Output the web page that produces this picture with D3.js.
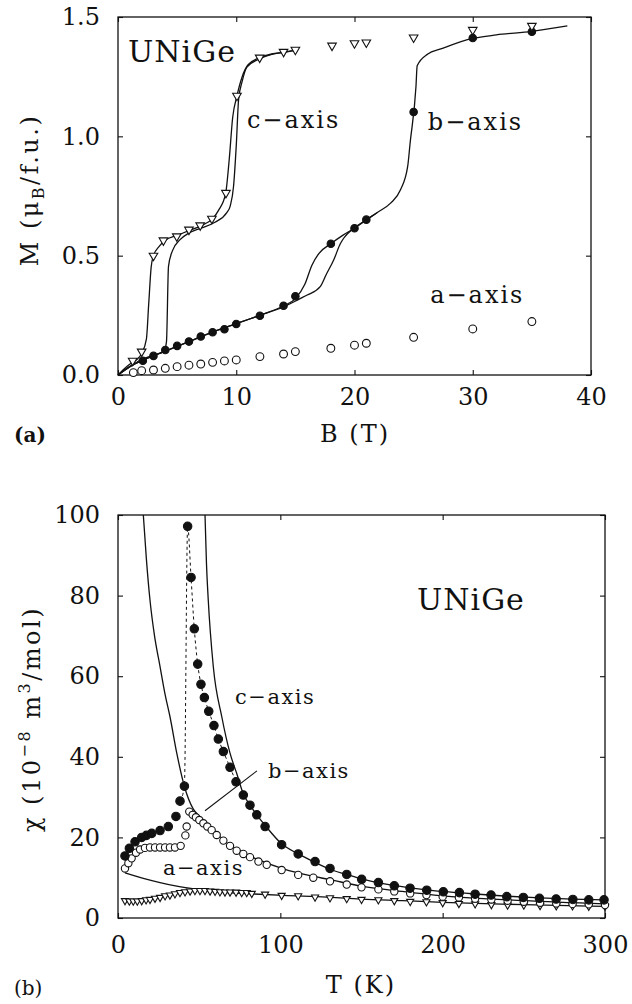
<!DOCTYPE html>
<html>
<head>
<meta charset="utf-8">
<script src="https://cdn.jsdelivr.net/npm/d3@7"></script>
<style>
  html, body { margin: 0; padding: 0; background: #fff; }
  svg { display: block; }
  text { font-family: "DejaVu Serif", serif; fill: #111; }
</style>
</head>
<body>
<svg id="fig" width="632" height="1004"></svg>
<script>
// ---- panel (a): magnetisation M (muB/f.u.) vs field B (T) ----
const cB = [1.24, 2.0, 3.0, 3.84, 4.97, 6.0, 6.95, 7.94, 9.13, 10.06, 11.98, 14.0, 15.0, 18.1, 20.0, 21.0, 25.0, 30.0, 35.0];
const cM = [0.06, 0.098, 0.5, 0.564, 0.581, 0.609, 0.627, 0.655, 0.763, 1.17, 1.33, 1.354, 1.363, 1.38, 1.39, 1.393, 1.414, 1.446, 1.463];
const bB = [2.1, 3.0, 4.0, 5.0, 6.0, 7.0, 8.0, 9.0, 10.0, 12.0, 14.0, 15.0, 18.0, 20.0, 21.0, 25.0, 30.0, 35.0];
const bM = [0.06, 0.08, 0.105, 0.122, 0.14, 0.161, 0.179, 0.192, 0.214, 0.248, 0.29, 0.33, 0.55, 0.615, 0.651, 1.102, 1.412, 1.438];
const aB = [1.3, 2, 3, 4, 5, 6, 7, 8, 9, 10, 12, 14, 15, 18, 20, 21, 25, 30, 35];
const aM = [0.01, 0.018, 0.021, 0.028, 0.035, 0.041, 0.046, 0.053, 0.059, 0.063, 0.077, 0.088, 0.098, 0.112, 0.125, 0.133, 0.158, 0.193, 0.224];

// solid curves (two field sweeps per axis)
const cDownB = [0, 0.4, 0.8, 1.2, 1.6, 2.0, 2.4, 2.6, 2.8, 3.0, 3.5, 4, 5, 6, 7, 8, 8.5, 9.1, 9.4, 9.7, 10.06, 10.5, 11, 12, 13, 14, 15];
const cDownM = [0, 0.02, 0.038, 0.052, 0.065, 0.09, 0.15, 0.3, 0.45, 0.5, 0.54, 0.565, 0.585, 0.605, 0.625, 0.655, 0.69, 0.76, 0.9, 1.08, 1.17, 1.25, 1.3, 1.33, 1.345, 1.352, 1.36];
const cUpB = [0, 1, 2, 3, 3.9, 4.1, 4.27, 4.6, 5.25, 6, 7, 8.2, 9.2, 9.5, 9.77, 10.0, 10.2, 10.5, 10.9, 12, 13, 14, 15];
const cUpM = [0, 0.035, 0.065, 0.083, 0.1, 0.14, 0.455, 0.52, 0.567, 0.595, 0.615, 0.64, 0.68, 0.71, 0.79, 0.96, 1.155, 1.23, 1.29, 1.325, 1.343, 1.352, 1.36];
const bDownB = [0, 1, 2, 3, 4, 6, 8, 10, 12, 14, 15, 15.8, 16.4, 17, 18, 19, 20, 21, 21.9, 23.05, 23.9, 24.5, 24.7, 25.2, 25.3, 26.2, 27.3, 30, 32, 35, 38];
const bDownM = [0, 0.035, 0.06, 0.08, 0.1, 0.14, 0.18, 0.215, 0.25, 0.29, 0.32, 0.38, 0.46, 0.51, 0.55, 0.585, 0.615, 0.65, 0.68, 0.72, 0.777, 0.875, 0.97, 1.21, 1.296, 1.345, 1.366, 1.41, 1.425, 1.44, 1.463];
const bUpB = [0, 1, 2, 3, 4, 6, 8, 10, 12, 14, 15.4, 16, 17.1, 17.6, 18.25, 18.8, 19.1, 19.94, 21, 21.9];
const bUpM = [0, 0.035, 0.06, 0.08, 0.1, 0.14, 0.18, 0.215, 0.25, 0.285, 0.32, 0.335, 0.37, 0.42, 0.483, 0.55, 0.574, 0.615, 0.65, 0.68];

// ---- panel (b): susceptibility chi (1e-8 m3/mol) vs temperature T (K) ----
const cT = [4.3, 7, 10.5, 14.6, 17.5, 20.8, 25.9, 31, 35.7, 38.2, 40.9, 42.9, 45, 47, 49.1, 51.1, 53.2, 55.9, 59.1, 61.8, 64.9, 69, 72.7, 77.2, 81.3, 85.5, 90.6, 100.8, 111, 121.4, 130.6, 140.9, 150.1, 160.4, 170.2, 179.9, 190.2, 200.4, 210.3, 220, 229.8, 239.5, 249.7, 259.6, 269.9, 280.2, 290, 299.4];
const cChi = [15.4, 17.3, 18.9, 20, 20.5, 21, 21.7, 22.7, 25.2, 29, 32.7, 97.2, 84.5, 71.75, 63, 58, 54.7, 51.3, 47.75, 44.4, 41.3, 37.4, 33.8, 30.5, 28, 25.6, 22.7, 18.2, 15.9, 14, 12.3, 10.8, 9.6, 8.8, 8.0, 7.4, 6.9, 6.5, 6.3, 5.9, 5.7, 5.3, 5.1, 4.9, 4.7, 4.6, 4.5, 4.5];
const bT = [4.3, 6.4, 8.4, 11.1, 13.6, 16.6, 19.7, 22.8, 25.9, 29, 32, 35.1, 38.6, 41.5, 42.3, 43.9, 46, 48, 50.1, 52.6, 55, 57.7, 60.8, 64.9, 69, 73.1, 77.2, 81.3, 86.5, 91.6, 100.8, 111, 120.3, 130.6, 140.9, 150, 160.4, 170.2, 180, 190, 200, 210, 220, 230, 240, 250, 260, 270, 280, 290, 300];
const bChi = [12.3, 13.6, 14.8, 16.2, 17, 17.4, 17.5, 17.5, 17.5, 17.5, 17.5, 17.5, 17.9, 20.5, 22.7, 26.4, 25.6, 25, 24.3, 23.5, 22.7, 21.8, 20.6, 19.2, 17.9, 16.7, 15.9, 15.1, 14, 13.2, 11.9, 10.7, 10.0, 9.1, 8.3, 7.6, 7.1, 6.6, 6.1, 5.7, 5.3, 5.1, 4.8, 4.6, 4.3, 4.05, 3.8, 3.6, 3.5, 3.4, 3.2];
const aT = [4.3, 7, 9.4, 11.9, 14.6, 17.3, 19.7, 22.8, 25.9, 29, 32, 35.1, 38.2, 41.3, 44.4, 47.4, 50.5, 53.6, 56.7, 59.8, 62.8, 65.9, 69, 72.7, 76.2, 79.3, 82.4, 90.6, 100.8, 111, 121.4, 130.6, 140.9, 150, 160.4, 170.2, 180, 190, 200, 210, 220, 230, 240, 250, 260, 270, 280, 290, 300];
const aChi = [4.3, 4.2, 4.2, 4.2, 4.3, 4.5, 4.6, 4.9, 5.1, 5.5, 5.7, 6.0, 6.3, 6.5, 6.7, 6.8, 6.8, 6.8, 6.7, 6.6, 6.5, 6.45, 6.45, 6.4, 6.3, 6.3, 6.1, 5.9, 5.6, 5.5, 5.2, 5.0, 4.8, 4.6, 4.5, 4.3, 4.1, 4.0, 3.8, 3.6, 3.5, 3.3, 3.2, 3.2, 3.1, 3.0, 3.0, 2.9, 2.9];

// fit curves as drawn in the figure
const fitBT = [15.6, 17.5, 19.7, 22.5, 25.9, 29, 32, 36.2, 41, 46.4, 50.5, 55, 60.8, 66, 73.1, 80, 87.5, 101.9, 118.3, 129.6, 150, 175, 200, 250, 300];
const fitBChi = [100, 89, 78.9, 70, 62.4, 55.5, 50, 40.9, 32.5, 27, 25.1, 23, 21, 19, 17.1, 15.6, 14.3, 12.2, 10.5, 9.6, 7.9, 6.6, 5.5, 4.3, 3.5];
const fitCT = [53.6, 54.5, 55.6, 58.7, 63.9, 69, 73.1, 77.2, 81.3, 85.5, 91, 100.8, 111, 121.4, 130.6, 140.9, 150, 160, 170, 180, 190, 200, 220, 240, 260, 280, 300];
const fitCChi = [100, 88, 78.9, 62.4, 50, 40.9, 35.9, 30.8, 28, 25.6, 22.8, 18.4, 15.9, 13.8, 12.1, 10.8, 9.7, 8.8, 8.1, 7.5, 7.0, 6.6, 5.95, 5.4, 5.0, 4.7, 4.5];
const fitAT = [4.3, 15.6, 25.9, 36.2, 48.5, 62.8, 81.3, 101.9, 128.6, 150, 175, 200, 250, 300];
const fitAChi = [11.2, 9.85, 8.8, 7.9, 7.1, 6.4, 6.0, 5.6, 5.2, 4.7, 4.3, 3.9, 3.3, 2.9];

// tick values
const ticksB = [0, 10, 20, 30, 40];
const ticksM = [0, 0.5, 1.0, 1.5];
const ticksT = [0, 100, 200, 300];
const ticksChi = [0, 20, 40, 60, 80, 100];

const zip = (xs, ys) => xs.map((x, i) => [x, ys[i]]);
const svg = d3.select('#fig');
const INK = '#111';

function frame(g, x, y, xt, yt, xfmt, yfmt, xpad, ypad) {
  const [x0, x1] = x.range(), [y0, y1] = y.range();
  g.append('rect').attr('x', x0).attr('y', y1).attr('width', x1 - x0).attr('height', y0 - y1)
    .attr('fill', 'none').attr('stroke', INK).attr('stroke-width', 1.3);
  const style = s => s.call(a => a.select('.domain').remove())
    .call(a => a.selectAll('line').attr('stroke', INK).attr('stroke-width', 1.1))
    .call(a => a.selectAll('text').attr('font-size', 24).attr('font-family', 'DejaVu Serif').attr('fill', INK));
  g.append('g').attr('transform', `translate(0,${y0})`)
    .call(d3.axisBottom(x).tickValues(xt).tickFormat(xfmt).tickSizeInner(-5).tickSizeOuter(0).tickPadding(xpad)).call(style);
  g.append('g').attr('transform', `translate(0,${y1})`)
    .call(d3.axisTop(x).tickValues(xt).tickFormat('').tickSizeInner(-5).tickSizeOuter(0)).call(style);
  g.append('g').attr('transform', `translate(${x0},0)`)
    .call(d3.axisLeft(y).tickValues(yt).tickFormat(yfmt).tickSizeInner(-5).tickSizeOuter(0).tickPadding(ypad)).call(style);
  g.append('g').attr('transform', `translate(${x1},0)`)
    .call(d3.axisRight(y).tickValues(yt).tickFormat('').tickSizeInner(-5).tickSizeOuter(0)).call(style);
}

function curve(g, x, y, pts, dash) {
  g.append('path').datum(pts)
    .attr('d', d3.line().x(d => x(d[0])).y(d => y(d[1])).curve(d3.curveMonotoneX))
    .attr('fill', 'none').attr('stroke', INK).attr('stroke-width', dash ? 1 : 1.3)
    .attr('stroke-dasharray', dash ? '3,3' : null);
}

function dots(g, x, y, pts, kind, size) {
  const sel = g.append('g').selectAll('path').data(pts).join('path');
  if (kind === 'tri') {
    sel.attr('d', d3.symbol(d3.symbolTriangle, size)())
      .attr('transform', d => `translate(${x(d[0])},${y(d[1])}) rotate(180)`)
      .attr('fill', '#fff').attr('stroke', INK).attr('stroke-width', 1.1);
  } else {
    sel.attr('d', d3.symbol(d3.symbolCircle, size)())
      .attr('transform', d => `translate(${x(d[0])},${y(d[1])})`)
      .attr('fill', kind === 'filled' ? INK : '#fff').attr('stroke', INK).attr('stroke-width', 1.1);
  }
}

function label(g, x, y, d, txt, size, ls) {
  g.append('text').attr('x', x(d[0])).attr('y', y(d[1]))
    .attr('font-size', size).attr('letter-spacing', ls).text(txt);
}

// ---------- panel (a) ----------
const xa = d3.scaleLinear().domain([0, 40]).range([118, 591]);
const ya = d3.scaleLinear().domain([0, 1.5]).range([375, 17]);
const ga = svg.append('g');
frame(ga, xa, ya, ticksB, ticksM, d3.format('d'), d3.format('.1f'), 13, 18);

curve(ga, xa, ya, zip(cDownB, cDownM));
curve(ga, xa, ya, zip(cUpB, cUpM));
curve(ga, xa, ya, zip(bDownB, bDownM));
curve(ga, xa, ya, zip(bUpB, bUpM));
dots(ga, xa, ya, zip(aB, aM), 'open', 48);
dots(ga, xa, ya, zip(bB, bM), 'filled', 44);
dots(ga, xa, ya, zip(cB, cM), 'tri', 32);

label(ga, xa, ya, [0.85, 1.311], 'UNiGe', 30, 1);
label(ga, xa, ya, [10.9, 1.035], 'c\u2212axis', 24, 2);
label(ga, xa, ya, [26.2, 1.027], 'b\u2212axis', 24, 2);
label(ga, xa, ya, [26.4, 0.302], 'a\u2212axis', 24, 2);

// axis titles (a)
ga.append('text').attr('x', 355).attr('y', 442).attr('text-anchor', 'middle')
  .attr('font-size', 24).attr('letter-spacing', 2).text('B (T)');
ga.append('text').attr('x', 14).attr('y', 442).attr('font-size', 20)
  .attr('font-family', 'Liberation Serif').attr('font-weight', 'bold').text('(a)');
const ta = ga.append('text').attr('transform', 'translate(38,190) rotate(-90)')
  .attr('text-anchor', 'middle').attr('font-size', 24).attr('letter-spacing', 2.5);
ta.append('tspan').text('M (\u03bc');
ta.append('tspan').attr('font-size', 16).attr('dy', 6).text('B');
ta.append('tspan').attr('dy', -6).text('/f.u.)');

// ---------- panel (b) ----------
const xb = d3.scaleLinear().domain([0, 300]).range([118, 605]);
const yb = d3.scaleLinear().domain([0, 100]).range([918, 515]);
const gb = svg.append('g');
frame(gb, xb, yb, ticksT, ticksChi, d3.format('d'), d3.format('d'), 18, 18);

// dashed guide through the filled points around the transition
const dashFrom = cT.indexOf(38.2), dashTo = cT.indexOf(72.7);
curve(gb, xb, yb, zip(cT, cChi).slice(dashFrom, dashTo + 1), true);
curve(gb, xb, yb, zip(fitBT, fitBChi));
curve(gb, xb, yb, zip(fitCT, fitCChi));
curve(gb, xb, yb, zip(fitAT, fitAChi));
dots(gb, xb, yb, zip(aT, aChi), 'tri', 22);
dots(gb, xb, yb, zip(bT, bChi), 'open', 42);
dots(gb, xb, yb, zip(cT, cChi), 'filled', 56);

// pointer from the b-axis label
const pointer = [[53.6, 26.6], [85.6, 36.5]];
gb.append('line').attr('x1', xb(pointer[0][0])).attr('y1', yb(pointer[0][1]))
  .attr('x2', xb(pointer[1][0])).attr('y2', yb(pointer[1][1]))
  .attr('stroke', INK).attr('stroke-width', 1.1);

label(gb, xb, yb, [184.2, 76.4], 'UNiGe', 30, 1);
label(gb, xb, yb, [72.1, 53.1], 'c\u2212axis', 21, 1.5);
label(gb, xb, yb, [92.4, 34.7], 'b\u2212axis', 21, 1.5);
label(gb, xb, yb, [27.7, 10.7], 'a\u2212axis', 21, 1.5);

gb.append('text').attr('x', 361).attr('y', 993).attr('text-anchor', 'middle')
  .attr('font-size', 24).attr('letter-spacing', 2).text('T (K)');
gb.append('text').attr('x', 14).attr('y', 995).attr('font-size', 20)
  .attr('font-family', 'Liberation Serif').text('(b)');
const tb = gb.append('text').attr('transform', 'translate(40,719) rotate(-90)')
  .attr('text-anchor', 'middle').attr('font-size', 24).attr('letter-spacing', 2.5);
tb.append('tspan').text('\u03c7 (10');
tb.append('tspan').attr('font-size', 16).attr('dy', -10).text('\u22128');
tb.append('tspan').attr('dy', 10).text(' m');
tb.append('tspan').attr('font-size', 16).attr('dy', -10).text('3');
tb.append('tspan').attr('dy', 10).text('/mol)');
</script>
</body>
</html>
